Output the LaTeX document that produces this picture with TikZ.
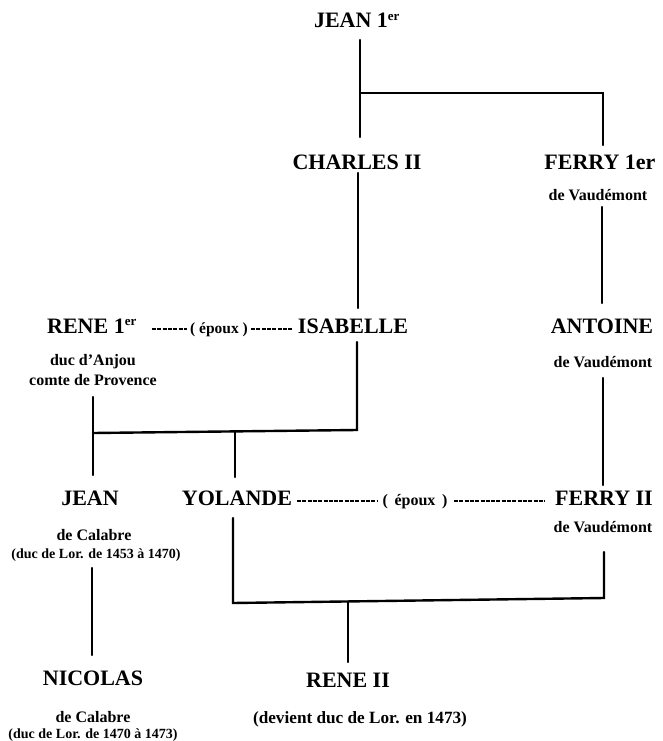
\documentclass[tikz,border=0pt]{standalone}
\usepackage{fontspec}
\setmainfont{Liberation Serif}
\begin{document}
\begin{tikzpicture}[x=1pt,y=-1pt,
  person/.style={anchor=base,inner sep=0pt,font=\bfseries\fontsize{22}{22}\selectfont},
  subline/.style={anchor=base,inner sep=0pt,font=\bfseries\fontsize{16}{16}\selectfont},
  smallline/.style={anchor=base,inner sep=0pt,font=\bfseries\fontsize{14}{14}\selectfont},
  spouse/.style={anchor=base,inner sep=0pt,font=\bfseries\fontsize{15.5}{15.5}\selectfont},
  tree/.style={line width=2.4pt,line cap=round,line join=miter},
  marriage/.style={line width=1.3pt,dash pattern=on 4pt off 1.3pt}]
\useasboundingbox (0,0) rectangle (662,741);

% names
\node[person] (jean1) at (357,28) {JEAN 1\textsuperscript{\fontsize{13}{13}\selectfont er}};
\node[person] (charles) at (357,169) {CHARLES II};
\node[person] (ferry1) at (600,169) {FERRY 1er};
\node[subline] (ferry1s) at (598,200) {de Vaudémont};
\node[person] (rene1) at (92,333) {RENE 1\textsuperscript{\fontsize{13}{13}\selectfont er}};
\node[subline] (rene1a) at (93,365) {duc d'Anjou};
\node[subline] (rene1b) at (93,385) {comte de Provence};
\node[person] (isabelle) at (353,333) {ISABELLE};
\node[person] (antoine) at (602,333) {ANTOINE};
\node[subline] (antoines) at (603,367) {de Vaudémont};
\node[person] (jean2) at (90,505) {JEAN};
\node[subline] (jean2a) at (94,540) {de Calabre};
\node[smallline] (jean2b) at (96,558) {(duc de Lor. de 1453 à 1470)};
\node[person] (yolande) at (237,505) {YOLANDE};
\node[person] (ferry2) at (604,505) {FERRY II};
\node[subline] (ferry2s) at (603,532) {de Vaudémont};
\node[person] (nicolas) at (93,685) {NICOLAS};
\node[subline] (nicolasa) at (93,722) {de Calabre};
\node[smallline] (nicolasb) at (93,738) {(duc de Lor. de 1470 à 1473)};
\node[person] (rene2) at (348,687) {RENE II};
\node[subline,font=\bfseries\fontsize{17.2}{17.2}\selectfont] (rene2s) at (360,723) {(devient duc de Lor. en 1473)};

% marriages
\node[spouse] (ep1) at (219,333) {(\ époux\ )};
\node[spouse,font=\bfseries\fontsize{16}{16}\selectfont] (ep2) at (415,505) {(\ \,époux\ \,)};
\coordinate (m1a) at (152,329);
\coordinate (m1b) at (187,329);
\coordinate (m1c) at (251,329);
\coordinate (m1d) at (292,329);
\coordinate (m2a) at (297,501);
\coordinate (m2b) at (377,501);
\coordinate (m2c) at (454,501);
\coordinate (m2d) at (545,501);
\draw[marriage] (m1a) -- (m1b);
\draw[marriage] (m1c) -- (m1d);
\draw[marriage] (m2a) -- (m2b);
\draw[marriage] (m2c) -- (m2d);

% tree lines
\coordinate (a1) at (360,40);
\coordinate (a2) at (360,137);
\coordinate (a3) at (360,93);
\coordinate (a4) at (603,93);
\coordinate (a5) at (603,145);
\draw[tree] (a1) -- (a2);
\draw[tree] (a3) -- (a4) -- (a5);

\coordinate (b1) at (358,173);
\coordinate (b2) at (358,308);
\draw[tree] (b1) -- (b2);

\coordinate (c1) at (602,207);
\coordinate (c2) at (602,303);
\draw[tree] (c1) -- (c2);

\coordinate (d1) at (357,342);
\coordinate (d2) at (357,430);
\coordinate (d3) at (93,433);
\coordinate (d4) at (93,397);
\coordinate (d5) at (93,475);
\coordinate (d6) at (235,432);
\coordinate (d7) at (235,477);
\draw[tree] (d1) -- (d2) -- (d3);
\draw[tree] (d4) -- (d5);
\draw[tree] (d6) -- (d7);

\coordinate (e1) at (603,378);
\coordinate (e2) at (603,485);
\draw[tree] (e1) -- (e2);

\coordinate (f1) at (604,552);
\coordinate (f2) at (604,598);
\coordinate (f3) at (233,603);
\coordinate (f4) at (233,518);
\coordinate (f5) at (348,602);
\coordinate (f6) at (348,662);
\draw[tree] (f1) -- (f2) -- (f3) -- (f4);
\draw[tree] (f5) -- (f6);

\coordinate (g1) at (92,568);
\coordinate (g2) at (92,655);
\draw[tree] (g1) -- (g2);
\end{tikzpicture}
\end{document}
